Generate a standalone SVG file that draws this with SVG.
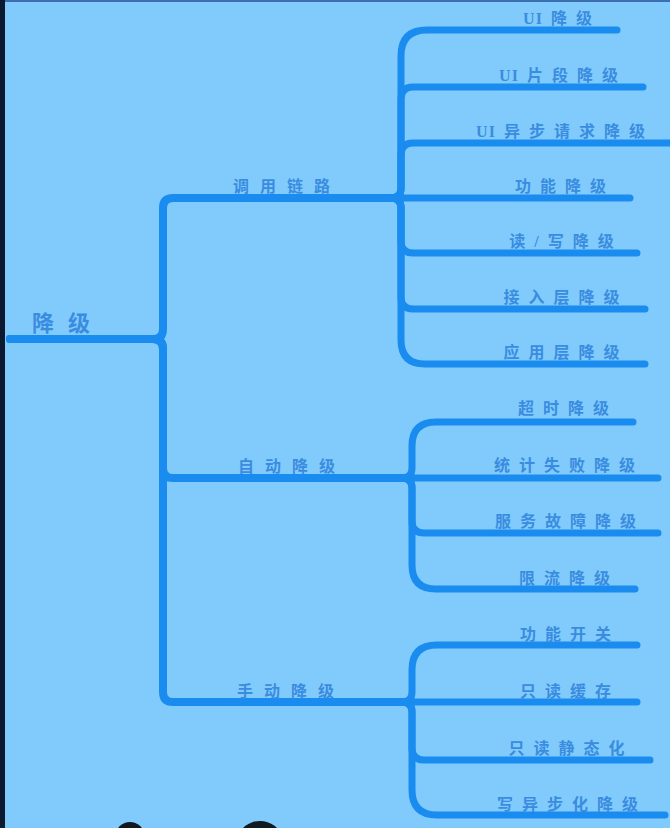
<svg xmlns="http://www.w3.org/2000/svg" width="670" height="828" viewBox="0 0 670 828">
<style>
.bg{fill:#80cbfb}
.c{fill:none;stroke:#1a8cf0;stroke-linecap:round;stroke-linejoin:round}
.m{stroke-width:8}
.s{stroke-width:7}
.t{font-family:"Liberation Serif","Noto Sans CJK SC",serif;font-weight:bold;font-size:16px;fill:#3a8ce0;letter-spacing:9px}
.ch{text-anchor:middle}
.p{letter-spacing:11px}
.r{font-size:22px;letter-spacing:14px}
.u{letter-spacing:1px}
</style>
<rect class="bg" x="0" y="0" width="670" height="828"/>
<rect x="0" y="0" width="670" height="2" fill="#3d6fb0"/>
<rect x="0" y="0" width="5" height="828" fill="#0b1a30"/>
<ellipse cx="130" cy="835" rx="14" ry="13" fill="#101820"/>
<ellipse cx="260" cy="836" rx="20" ry="15" fill="#101820"/>
<g id="connectors">
<path class="c m" d="M10,339 H153 Q163,339 163,329 V208 Q163,198 173,198 H401"/>
<path class="c m" d="M10,339 H153 Q163,339 163,349 V468 Q163,478 173,478 H412"/>
<path class="c m" d="M10,339 H153 Q163,339 163,349 V692 Q163,702 173,702 H412"/>
<path class="c s" d="M391,198 Q401,198 401,188 V56 Q401,30 427,30 H617"/>
<path class="c s" d="M391,198 Q401,198 401,188 V99 Q401,87 413,87 H643"/>
<path class="c s" d="M391,198 Q401,198 401,188 V155 Q401,143 413,143 H680"/>
<path class="c s" d="M401,198 H630"/>
<path class="c s" d="M391,198 Q401,198 401,208 V241 Q401,253 413,253 H637"/>
<path class="c s" d="M391,198 Q401,198 401,208 V297 Q401,309 413,309 H645"/>
<path class="c s" d="M391,198 Q401,198 401,208 V340 Q401,364 425,364 H645"/>
<path class="c s" d="M402,478 Q412,478 412,468 V446 Q412,422 436,422 H633"/>
<path class="c s" d="M412,478 H658"/>
<path class="c s" d="M402,478 Q412,478 412,488 V521 Q412,533 424,533 H658"/>
<path class="c s" d="M402,478 Q412,478 412,488 V565 Q412,589 436,589 H635"/>
<path class="c s" d="M402,702 Q412,702 412,692 V670 Q412,645 437,645 H637"/>
<path class="c s" d="M412,702 H637"/>
<path class="c s" d="M402,702 Q412,702 412,712 V748 Q412,760 424,760 H650"/>
<path class="c s" d="M402,702 Q412,702 412,712 V790 Q412,815 437,815 H665"/>
</g>
<g id="root"><text class="t r" x="32" y="331">降级</text></g>
<g id="n-diaoyong"><text class="t p" x="233" y="192">调用链路</text></g>
<g id="n-zidong"><text class="t p" x="238" y="472">自动降级</text></g>
<g id="n-shoudong"><text class="t p" x="237" y="697">手动降级</text></g>
<g id="n-ui"><text class="t ch" x="562" y="24"><tspan class="u">U</tspan>I降级</text></g>
<g id="n-uipd"><text class="t ch" x="563" y="81"><tspan class="u">U</tspan>I片段降级</text></g>
<g id="n-uiyb"><text class="t ch" x="565" y="137"><tspan class="u">U</tspan>I异步请求降级</text></g>
<g id="n-gn"><text class="t ch" x="565" y="192">功能降级</text></g>
<g id="n-dx"><text class="t ch" x="566" y="247">读/写降级</text></g>
<g id="n-jr"><text class="t ch" x="566" y="303">接入层降级</text></g>
<g id="n-yy"><text class="t ch" x="566" y="358">应用层降级</text></g>
<g id="n-cs"><text class="t ch" x="568" y="414">超时降级</text></g>
<g id="n-tj"><text class="t ch" x="569" y="471">统计失败降级</text></g>
<g id="n-fw"><text class="t ch" x="570" y="527">服务故障降级</text></g>
<g id="n-xl"><text class="t ch" x="569" y="584">限流降级</text></g>
<g id="n-kg"><text class="t ch" x="570" y="640">功能开关</text></g>
<g id="n-hc"><text class="t ch" x="570" y="697">只读缓存</text></g>
<g id="n-jt"><text class="t ch" x="571" y="754">只读静态化</text></g>
<g id="n-xy"><text class="t ch" x="572" y="810">写异步化降级</text></g>
</svg>
